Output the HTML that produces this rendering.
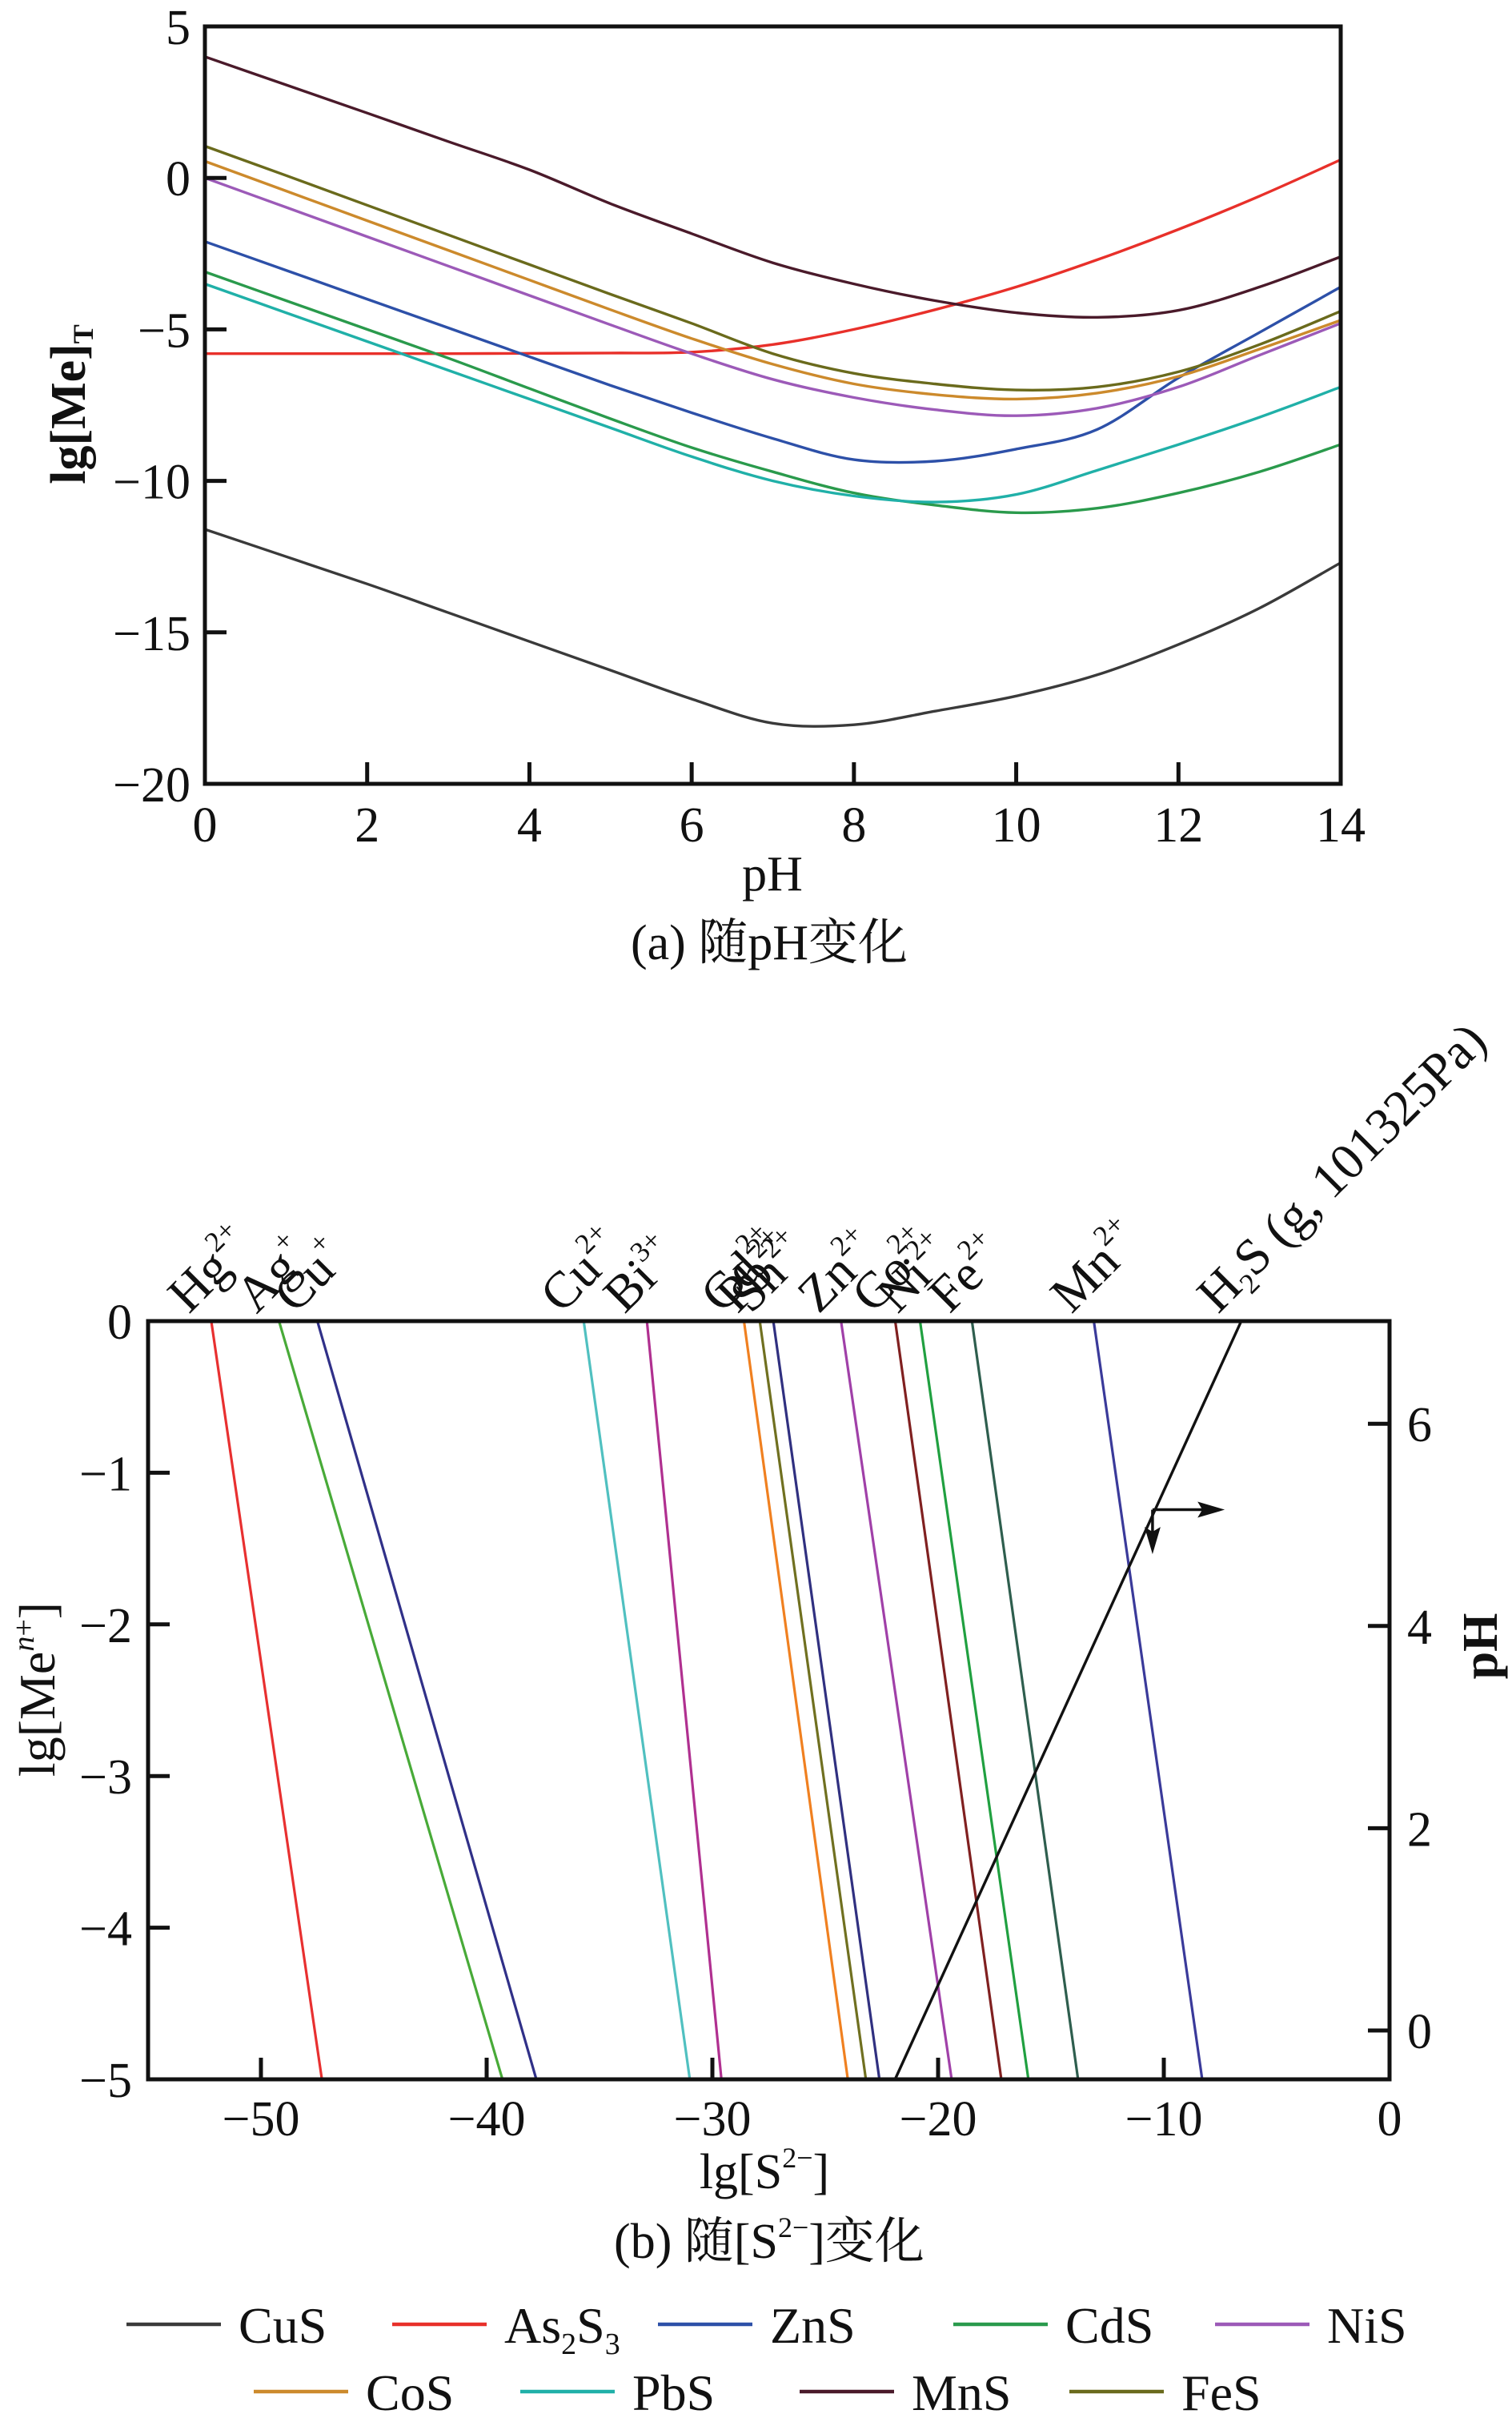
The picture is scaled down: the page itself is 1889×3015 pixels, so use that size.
<!DOCTYPE html>
<html><head><meta charset="utf-8"><style>
body{margin:0;background:#fff}
svg{display:block;font-family:"Liberation Serif","Noto Serif CJK SC",serif}
</style></head><body>
<svg id="fig" width="1889" height="3015" viewBox="0 0 1889 3015" xmlns="http://www.w3.org/2000/svg">
<g id="chartA"></g>
<g id="chartB"></g>
<g id="legend"></g>
</svg>
<script>
// ---------- Chart (a) data ----------
const phValues = [0,1,2,3,4,5,6,7,8,9,10,11,12,13,14];
const seriesNames = ["CuS","As2S3","ZnS","CdS","NiS","CoS","PbS","MnS","FeS"];
const cuS   = [-11.6,-12.5,-13.4,-14.35,-15.3,-16.25,-17.2,-18.0,-18.05,-17.6,-17.1,-16.4,-15.4,-14.2,-12.7];
const as2S3 = [-5.8,-5.8,-5.8,-5.8,-5.79,-5.78,-5.75,-5.5,-5.0,-4.35,-3.6,-2.7,-1.7,-0.6,0.6];
const znS   = [-2.1,-3.05,-4.0,-4.95,-5.9,-6.85,-7.75,-8.6,-9.3,-9.35,-8.95,-8.3,-6.6,-5.1,-3.6];
const cdS   = [-3.1,-4.05,-5.0,-5.95,-6.95,-7.95,-8.9,-9.7,-10.4,-10.8,-11.05,-10.9,-10.4,-9.7,-8.8];
const niS   = [0,-0.97,-1.94,-2.91,-3.88,-4.85,-5.8,-6.65,-7.25,-7.65,-7.85,-7.6,-6.9,-5.85,-4.8];
const coS   = [0.55,-0.43,-1.41,-2.39,-3.37,-4.35,-5.3,-6.15,-6.8,-7.15,-7.3,-7.1,-6.55,-5.65,-4.7];
const pbS   = [-3.5,-4.45,-5.4,-6.35,-7.3,-8.25,-9.2,-10.0,-10.5,-10.7,-10.45,-9.65,-8.8,-7.9,-6.9];
const mnS   = [4.0,3.07,2.14,1.2,0.27,-0.85,-1.84,-2.8,-3.5,-4.05,-4.45,-4.6,-4.37,-3.6,-2.6];
const feS   = [1.05,0.08,-0.9,-1.88,-2.86,-3.84,-4.8,-5.8,-6.45,-6.8,-7.0,-6.9,-6.4,-5.5,-4.4];
const seriesColors = ["#3a3a3a","#e8302a","#2d50a8","#2a9a4c","#9c5ab8","#cc8a2c","#20b0a8","#4a1a2a","#6a6a1c"];
const xTicksA = [0,2,4,6,8,10,12,14];
const yTicksA = [5,0,-5,-10,-15,-20];

// ---------- Chart (b) data ----------
const ionLabels = ["Hg","Ag","Cu","Cu","Bi","Cd","Pb","Sn","Zn","Co","Ni","Fe","Mn"];
const ionCharges = ["2+","+","+","2+","3+","2+","2+","2+","2+","2+","2+","2+","2+"];
const ionTopX = [-52.2,-49.2,-47.5,-35.7,-32.9,-28.6,-27.9,-27.3,-24.3,-21.9,-20.8,-18.5,-13.1];
const ionBottomX = [-47.3,-39.3,-37.8,-31.0,-29.6,-24.0,-23.2,-22.6,-19.4,-17.2,-16.0,-13.8,-8.3];
const ionColors = ["#e83030","#48aa38","#303088","#50c0c0","#b03090","#f08020","#707020","#303080","#a040a8","#802020","#20a040","#2e5e4e","#3a3a9a"];
const h2sX = [-21.9,-6.6];
const h2sPH = [-0.48,7.0];
const xTicksB = [-50,-40,-30,-20,-10,0];
const yTicksB = [0,-1,-2,-3,-4,-5];
const pHTicksB = [0,2,4,6];

const NS="http://www.w3.org/2000/svg";
function mk(tag,attrs,parent){const e=document.createElementNS(NS,tag);for(const k in attrs)e.setAttribute(k,attrs[k]);parent.appendChild(e);return e;}
const FS=62;

// ---- Chart A ----
const A=document.getElementById('chartA');
const aL=256,aR=1675,aT=33,aB=979;
const ax=v=>aL+(v-0)/14*(aR-aL);
const ay=v=>aT+(5-v)/25*(aB-aT);
function smoothPath(xs,ys){
  let pts=xs.map((x,i)=>[x,ys[i]]);
  let d="M"+pts[0][0].toFixed(1)+","+pts[0][1].toFixed(1);
  for(let i=0;i<pts.length-1;i++){
    const p0=pts[Math.max(0,i-1)],p1=pts[i],p2=pts[i+1],p3=pts[Math.min(pts.length-1,i+2)];
    const c1=[p1[0]+(p2[0]-p0[0])/6,p1[1]+(p2[1]-p0[1])/6];
    const c2=[p2[0]-(p3[0]-p1[0])/6,p2[1]-(p3[1]-p1[1])/6];
    d+=" C"+c1[0].toFixed(1)+","+c1[1].toFixed(1)+" "+c2[0].toFixed(1)+","+c2[1].toFixed(1)+" "+p2[0].toFixed(1)+","+p2[1].toFixed(1);
  }
  return d;
}
const allSeries=[cuS,as2S3,znS,cdS,niS,coS,pbS,mnS,feS];
allSeries.forEach((s,i)=>{
  const p=mk('path',{d:smoothPath(phValues.map(ax),s.map(ay)),fill:'none',stroke:seriesColors[i],'stroke-width':3.4},A);
  
  
});
const frameA=mk('rect',{x:aL,y:aT,width:aR-aL,height:aB-aT,fill:'none',stroke:'#111','stroke-width':5},A);


xTicksA.forEach(v=>{
  const t=mk('line',{x1:ax(v),x2:ax(v),y1:aB,y2:aB-27,stroke:'#111','stroke-width':5},A);
  
  
  const l=mk('text',{x:ax(v),y:aB+72,'font-size':FS,'text-anchor':'middle',fill:'#111'},A);
  l.textContent=v;
  
  
});
yTicksA.forEach(v=>{
  const t=mk('line',{x1:aL,x2:aL+27,y1:ay(v),y2:ay(v),stroke:'#111','stroke-width':5},A);
  
  
  const l=mk('text',{x:aL-18,y:ay(v)+22,'font-size':FS,'text-anchor':'end',fill:'#111'},A);
  l.textContent=v<0?"\u2212"+(-v):v;
  
  
});
</script>
<script>
(function(){
const A=document.getElementById('chartA');
A.insertAdjacentHTML('beforeend',
 '<text x="965" y="1112" font-size="62" text-anchor="middle" fill="#111">pH</text>'+
 '<text x="961" y="1198" font-size="62" text-anchor="middle" fill="#111">(a) 随pH变化</text>'+
 '<text transform="translate(106,505) rotate(-90)" font-size="62" font-weight="bold" text-anchor="middle" fill="#111">lg[Me]<tspan font-size="36" dy="10">T</tspan></text>');
})();
</script>
<script>
// ---- Chart B ----
const B=document.getElementById('chartB');
const bL=185,bR=1736,bT=1650,bB=2597;
const bx=v=>bL+(v+55)/55*(bR-bL);
const by=v=>bT+(0-v)/5*(bB-bT);
const bph=v=>2536-v*126.3;
ionTopX.forEach((tx,i)=>{
  const l=mk('line',{x1:bx(tx),y1:by(0),x2:bx(ionBottomX[i]),y2:by(-5),stroke:ionColors[i],'stroke-width':3.2},B);
  
  
  const x0=bx(tx)-28,y0=bT-8;
  const t=mk('text',{transform:'translate('+x0.toFixed(1)+','+y0+') rotate(-45)','font-size':64,fill:'#111'},B);
  t.innerHTML=ionLabels[i]+'<tspan font-size="36" dy="-30">'+ionCharges[i]+'</tspan>';
  
  
});
const h2s=mk('line',{x1:bx(h2sX[0]),y1:bph(h2sPH[0]),x2:bx(h2sX[1]),y2:bph(h2sPH[1]),stroke:'#111','stroke-width':3.4},B);


const h2sLbl=mk('text',{transform:'translate('+(bx(h2sX[1])-28).toFixed(1)+','+(bT-8)+') rotate(-45)','font-size':64,fill:'#111'},B);
h2sLbl.innerHTML='H<tspan font-size="36" dy="12">2</tspan><tspan dy="-12">S (g, 101325Pa)</tspan>';


const frameB=mk('rect',{x:bL,y:bT,width:bR-bL,height:bB-bT,fill:'none',stroke:'#111','stroke-width':5},B);


xTicksB.forEach(v=>{
  const t=mk('line',{x1:bx(v),x2:bx(v),y1:bB,y2:bB-27,stroke:'#111','stroke-width':5},B);
  
  
  const l=mk('text',{x:bx(v),y:bB+70,'font-size':FS,'text-anchor':'middle',fill:'#111'},B);
  l.textContent=v<0?"\u2212"+(-v):v;
  
  
});
yTicksB.forEach(v=>{
  const t=mk('line',{x1:bL,x2:bL+27,y1:by(v),y2:by(v),stroke:'#111','stroke-width':5},B);
  
  
  const l=mk('text',{x:bL-20,y:by(v)+22,'font-size':FS,'text-anchor':'end',fill:'#111'},B);
  l.textContent=v<0?"\u2212"+(-v):v;
  
  
});
pHTicksB.forEach(v=>{
  const t=mk('line',{x1:bR,x2:bR-27,y1:bph(v),y2:bph(v),stroke:'#111','stroke-width':5},B);
  
  
  const l=mk('text',{x:bR+22,y:bph(v)+22,'font-size':FS,'text-anchor':'start',fill:'#111'},B);
  l.textContent=v;
  
  
});
const cx=bx(-10.5),cy=bph(5.15);
B.insertAdjacentHTML('beforeend',
 '<g stroke="#111" stroke-width="3.5" fill="#111">'+
 '<line x1="'+cx+'" y1="'+cy+'" x2="'+(bx(-7.3)-20)+'" y2="'+cy+'"/>'+
 '<polygon stroke="none" points="'+bx(-7.3)+','+cy+' '+(bx(-7.3)-34)+','+(cy-10)+' '+(bx(-7.3)-28)+','+cy+' '+(bx(-7.3)-34)+','+(cy+10)+'"/>'+
 '<line x1="'+cx+'" y1="'+cy+'" x2="'+cx+'" y2="'+(bph(4.71)-20)+'"/>'+
 '<polygon stroke="none" points="'+cx+','+bph(4.71)+' '+(cx-10)+','+(bph(4.71)-34)+' '+cx+','+(bph(4.71)-28)+' '+(cx+10)+','+(bph(4.71)-34)+'"/></g>');
B.insertAdjacentHTML('beforeend',
 '<text x="955" y="2733" font-size="62" text-anchor="middle" fill="#111">lg[S<tspan font-size="36" dy="-26">2\u2212</tspan><tspan dy="26">]</tspan></text>'+
 '<text x="961" y="2820" font-size="62" text-anchor="middle" fill="#111">(b) 随[S<tspan font-size="36" dy="-26">2\u2212</tspan><tspan dy="26">]变化</tspan></text>'+
 '<text transform="translate(68,2110) rotate(-90)" font-size="64" text-anchor="middle" fill="#111">lg[Me<tspan font-size="38" dy="-26" font-style="italic">n</tspan><tspan font-size="38">+</tspan><tspan dy="26">]</tspan></text>'+
 '<text transform="translate(1870,2056) rotate(-90)" font-size="62" font-weight="bold" text-anchor="middle" fill="#111">pH</text>');

// ---- Legend ----
const G=document.getElementById('legend');
const legendLineX=[158,490,822,1191,1518,317,650,999,1336];
const legendRowY=[2903,2903,2903,2903,2903,2987,2987,2987,2987];
seriesNames.forEach((n,i)=>{
  const l=mk('line',{x1:legendLineX[i],x2:legendLineX[i]+118,y1:legendRowY[i],y2:legendRowY[i],stroke:seriesColors[i],'stroke-width':4.5},G);
  
  
  const t=mk('text',{x:legendLineX[i]+140,y:legendRowY[i]+23,'font-size':64,fill:'#111'},G);
  t.innerHTML=n==="As2S3"?'As<tspan font-size="38" dy="14">2</tspan><tspan dy="-14">S</tspan><tspan font-size="38" dy="14">3</tspan>':n;
  
  
});
</script>
</body></html>
